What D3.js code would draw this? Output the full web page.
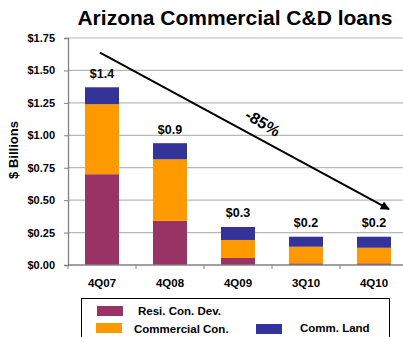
<!DOCTYPE html>
<html>
<head>
<meta charset="utf-8">
<script src="https://cdn.jsdelivr.net/npm/d3@7"></script>
<style>
  body { margin: 0; background: #fff; }
  text { font-family: Arial, "Liberation Sans", sans-serif; font-weight: bold; }
</style>
</head>
<body>
<div id="canvas"></div>
<script>
"use strict"

/* Data ($ billions) */
let quarters = ["4Q07", "4Q08", "4Q09", "3Q10", "4Q10"];
let resiConDev = [0.70, 0.34, 0.054, 0.013, 0.013];
let commercialCon = [0.54, 0.475, 0.139, 0.128, 0.12];
let commLand = [0.13, 0.124, 0.10, 0.077, 0.085];
let totalLabels = ["$1.4", "$0.9", "$0.3", "$0.2", "$0.2"];
let yTicks = [0, 0.25, 0.5, 0.75, 1, 1.25, 1.5, 1.75];
let seriesNames = ["Resi. Con. Dev.", "Commercial Con.", "Comm. Land"];
let seriesColors = ["#993366", "#FF9900", "#333399"];

/* Drawing config */
let svgWidth = 403;
let svgHeight = 337;
let plotLeft = 68, plotRight = 408, plotTop = 38, plotBottom = 265;

let svg = d3.select("#canvas")
    .append("svg")
    .attr("width", svgWidth)
    .attr("height", svgHeight);

let xScale = d3.scaleBand()
    .domain(quarters)
    .range([plotLeft, plotRight])
    .paddingInner(0.5)
    .paddingOuter(0.25);

let xBand = d3.scaleBand()
    .domain(quarters)
    .range([plotLeft, plotRight]);

let yScale = d3.scaleLinear()
    .domain([0, 1.75])
    .range([plotBottom, plotTop]);

/* Gridlines */
svg.append("g")
    .selectAll("line")
    .data(yTicks.slice(1))
    .join("line")
    .attr("x1", plotLeft)
    .attr("x2", plotRight)
    .attr("y1", d => yScale(d))
    .attr("y2", d => yScale(d))
    .attr("stroke", "#b8b8b8")
    .attr("stroke-width", 1.2);

/* Stacked bars */
let table = quarters.map((q, i) => ({
    q: q,
    resi: resiConDev[i],
    comm: commercialCon[i],
    land: commLand[i]
}));
let stack = d3.stack().keys(["resi", "comm", "land"])(table);

svg.append("g")
    .selectAll("g")
    .data(stack)
    .join("g")
    .attr("fill", (d, i) => seriesColors[i])
    .selectAll("rect")
    .data(d => d)
    .join("rect")
    .attr("x", d => xScale(d.data.q))
    .attr("width", xScale.bandwidth())
    .attr("y", d => yScale(d[1]))
    .attr("height", d => yScale(d[0]) - yScale(d[1]));

/* Total labels */
svg.append("g")
    .selectAll("text")
    .data(table)
    .join("text")
    .attr("x", d => xScale(d.q) + xScale.bandwidth() / 2)
    .attr("y", d => yScale(d.resi + d.comm + d.land) - 9.5)
    .attr("text-anchor", "middle")
    .attr("font-size", "12.5px")
    .text((d, i) => totalLabels[i]);

/* Y axis */
let yAxis = svg.append("g")
    .attr("transform", "translate(" + plotLeft + ",0)")
    .call(d3.axisLeft(yScale).tickValues(yTicks).tickSize(4).tickPadding(9)
        .tickFormat(d => "$" + d3.format(".2f")(d)));
yAxis.select(".domain").attr("stroke", "#808080").attr("stroke-width", 1.3);
yAxis.selectAll(".tick line").attr("stroke", "#808080");
yAxis.selectAll("text")
    .attr("fill", "#000")
    .attr("font-size", "11px")
    .attr("font-family", "Arial, 'Liberation Sans', sans-serif");

/* X axis */
let xAxis = svg.append("g")
    .attr("transform", "translate(0," + plotBottom + ")")
    .call(d3.axisBottom(xBand).tickSize(0).tickPadding(14));
xAxis.select(".domain").remove();
xAxis.selectAll("text")
    .attr("fill", "#000")
    .attr("font-size", "11.5px")
    .attr("font-family", "Arial, 'Liberation Sans', sans-serif");
svg.append("line")
    .attr("x1", plotLeft).attr("x2", plotRight)
    .attr("y1", plotBottom).attr("y2", plotBottom)
    .attr("stroke", "#808080").attr("stroke-width", 1.3);
svg.append("g")
    .selectAll("line")
    .data(quarters)
    .join("line")
    .attr("x1", d => xBand(d)).attr("x2", d => xBand(d))
    .attr("y1", plotBottom).attr("y2", plotBottom + 4)
    .attr("stroke", "#808080");

/* Y axis title */
svg.append("text")
    .attr("transform", "translate(15," + 150 + ") rotate(-90)")
    .attr("text-anchor", "middle")
    .attr("dominant-baseline", "middle")
    .attr("font-size", "13px")
    .text("$ Billions");

/* Chart title */
svg.append("text")
    .attr("x", 235)
    .attr("y", 25)
    .attr("text-anchor", "middle")
    .attr("font-size", "21px")
    .text("Arizona Commercial C&D loans");

/* Trend arrow */
svg.append("defs").append("marker")
    .attr("id", "arrow")
    .attr("viewBox", "0 0 10 10")
    .attr("refX", 9).attr("refY", 5)
    .attr("markerWidth", 5).attr("markerHeight", 4.5)
    .attr("markerUnits", "strokeWidth")
    .attr("orient", "auto")
    .append("path")
    .attr("d", "M0,0 L10,5 L0,10 z")
    .attr("fill", "#000");

let ax1 = xScale("4Q07") + xScale.bandwidth() / 2 - 2, ay1 = yScale(1.637);
let ax2 = xScale("4Q10") + xScale.bandwidth() / 2 + 15, ay2 = yScale(0.43);
svg.append("line")
    .attr("x1", ax1).attr("y1", ay1)
    .attr("x2", ax2).attr("y2", ay2)
    .attr("stroke", "#000")
    .attr("stroke-width", 2)
    .attr("marker-end", "url(#arrow)");

svg.append("text")
    .attr("transform", "translate(262,124) rotate(31)")
    .attr("text-anchor", "middle")
    .attr("dominant-baseline", "middle")
    .attr("font-size", "16px")
    .text("-85%");

/* Legend */
svg.append("rect")
    .attr("x", 81.5).attr("y", 298.5)
    .attr("width", 308).attr("height", 60)
    .attr("fill", "#fff")
    .attr("stroke", "#000")
    .attr("stroke-width", 1);

let legendPos = [
    {sx: 97, sy: 306, tx: 138, ty: 312},
    {sx: 96, sy: 323, tx: 134, ty: 329.5},
    {sx: 256, sy: 324, tx: 300, ty: 329}
];
let legend = svg.append("g")
    .selectAll("g")
    .data(seriesNames)
    .join("g");
legend.append("rect")
    .attr("x", (d, i) => legendPos[i].sx)
    .attr("y", (d, i) => legendPos[i].sy)
    .attr("width", 26).attr("height", 10)
    .attr("fill", (d, i) => seriesColors[i]);
legend.append("text")
    .attr("x", (d, i) => legendPos[i].tx)
    .attr("y", (d, i) => legendPos[i].ty)
    .attr("dominant-baseline", "middle")
    .attr("font-size", "11.5px")
    .text(d => d);
</script>
</body>
</html>
